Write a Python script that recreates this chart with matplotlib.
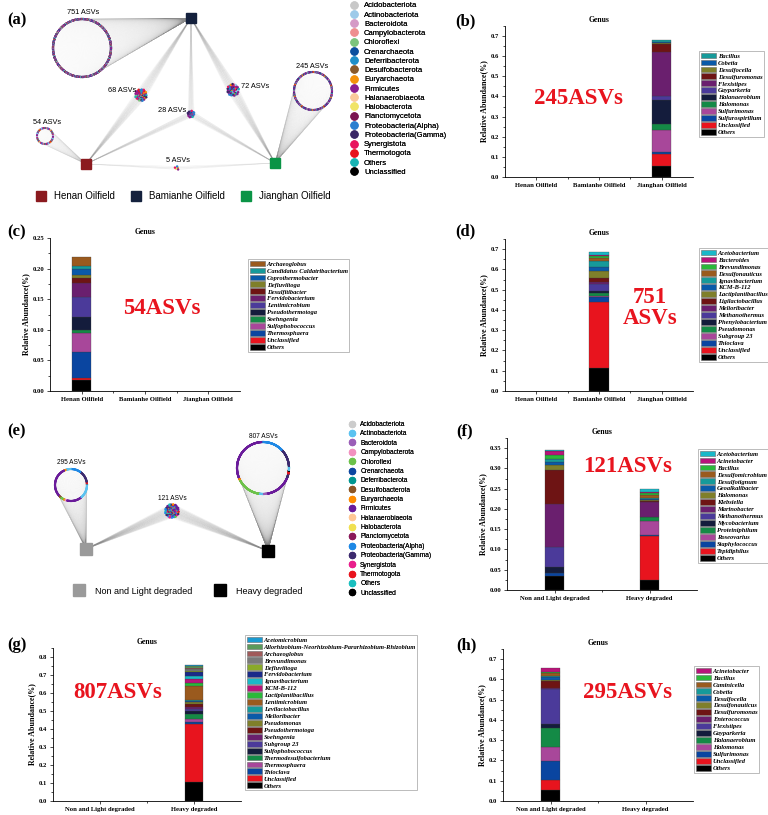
import numpy as np
import matplotlib.pyplot as plt
from matplotlib.collections import LineCollection
from matplotlib.lines import Line2D
from matplotlib.patches import Patch
from matplotlib.ticker import AutoMinorLocator, FormatStrFormatter

plt.rcParams['font.family'] = 'Liberation Serif'
plt.rcParams['font.weight'] = 'bold'
plt.rcParams['axes.labelweight'] = 'bold'
plt.rcParams['axes.titleweight'] = 'bold'

W, H = 768, 815

# ---------------- phyla (network legends) ----------------
phyla = ['Acidobacteriota', 'Actinobacteriota', 'Bacteroidota', 'Campylobacterota',
         'Chloroflexi', 'Crenarchaeota', 'Deferribacterota', 'Desulfobacterota',
         'Euryarchaeota', 'Firmicutes', 'Halanaerobiaeota', 'Halobacterota',
         'Planctomycetota', 'Proteobacteria(Alpha)', 'Proteobacteria(Gamma)',
         'Synergistota', 'Thermotogota', 'Others', 'Unclassified']
phyla_col_a = ['#c8c8c8', '#9ecae9', '#d59ac6', '#ef8f8f', '#7cc47c', '#0b4f9e',
               '#1f8fc8', '#8a5a2a', '#f5920a', '#8b1f8f', '#f9c99b', '#f0e466',
               '#7b1650', '#2a7fd0', '#3a2766', '#e8145e', '#e8141e', '#18b4b4', '#000000']
phyla_col_e = ['#cccccc', '#5bc2f0', '#9b5fb8', '#f291bf', '#6cc24a', '#0d47a1',
               '#009690', '#8d5524', '#ff8c00', '#6a1b9a', '#ffc896', '#f0e050',
               '#8b1a5a', '#1e88e5', '#3c2a6e', '#e91e8c', '#e8141e', '#1abfbf', '#000000']

# (a) oilfields
oilfields = ['Henan Oilfield', 'Bamianhe Oilfield', 'Jianghan Oilfield']
oil_colors = ['#8b1a1f', '#14213d', '#0a9446']

# ASV groups in (a): phylum composition
g751_phyla = ['Firmicutes', 'Proteobacteria(Gamma)', 'Proteobacteria(Alpha)', 'Synergistota',
              'Others', 'Bacteroidota', 'Chloroflexi', 'Euryarchaeota', 'Actinobacteriota',
              'Desulfobacterota', 'Thermotogota', 'Unclassified', 'Campylobacterota']
g751_counts = [220, 120, 90, 60, 70, 50, 30, 25, 30, 20, 15, 10, 11]
g54_phyla = ['Actinobacteriota', 'Synergistota', 'Firmicutes', 'Proteobacteria(Alpha)',
             'Thermotogota', 'Others', 'Euryarchaeota']
g54_counts = [10, 8, 12, 8, 6, 6, 4]
g245_phyla = ['Firmicutes', 'Proteobacteria(Gamma)', 'Proteobacteria(Alpha)', 'Synergistota',
              'Others', 'Bacteroidota', 'Chloroflexi', 'Euryarchaeota', 'Thermotogota']
g245_counts = [70, 45, 35, 25, 25, 15, 10, 10, 10]
g68_phyla = ['Firmicutes', 'Proteobacteria(Alpha)', 'Others', 'Synergistota', 'Euryarchaeota',
             'Chloroflexi', 'Thermotogota', 'Proteobacteria(Gamma)']
g68_counts = [18, 10, 8, 8, 6, 6, 6, 6]
g72_phyla = ['Firmicutes', 'Proteobacteria(Gamma)', 'Proteobacteria(Alpha)', 'Synergistota',
             'Others', 'Actinobacteriota', 'Euryarchaeota']
g72_counts = [22, 14, 10, 8, 8, 6, 4]
g28_phyla = ['Proteobacteria(Alpha)', 'Firmicutes', 'Proteobacteria(Gamma)', 'Synergistota', 'Others']
g28_counts = [8, 8, 6, 3, 3]
g5_phyla = ['Euryarchaeota', 'Halobacterota', 'Proteobacteria(Alpha)', 'Firmicutes', 'Synergistota']
g5_counts = [1, 1, 1, 1, 1]

# (e) degradation groups
degr = ['Non and Light degraded', 'Heavy degraded']
degr_colors = ['#9a9a9a', '#000000']
g807_phyla = ['Others', 'Proteobacteria(Gamma)', 'Proteobacteria(Alpha)', 'Firmicutes',
              'Euryarchaeota', 'Chloroflexi', 'Actinobacteriota', 'Bacteroidota', 'Firmicutes',
              'Proteobacteria(Gamma)', 'Thermotogota', 'Unclassified', 'Actinobacteriota']
g807_counts = [10, 90, 110, 250, 10, 120, 20, 20, 130, 20, 12, 5, 10]
g295_phyla = ['Unclassified', 'Thermotogota', 'Proteobacteria(Gamma)', 'Proteobacteria(Alpha)',
              'Actinobacteriota', 'Euryarchaeota', 'Firmicutes', 'Desulfobacterota', 'Chloroflexi',
              'Euryarchaeota', 'Campylobacterota', 'Firmicutes', 'Actinobacteriota']
g295_counts = [5, 5, 35, 30, 15, 5, 90, 6, 10, 4, 5, 45, 40]
g121_phyla = ['Firmicutes', 'Proteobacteria(Alpha)', 'Proteobacteria(Gamma)', 'Synergistota',
              'Others', 'Euryarchaeota', 'Chloroflexi', 'Thermotogota']
g121_counts = [30, 25, 20, 12, 12, 8, 8, 6]

# ---------------- genus bar charts ----------------
bar_pal = ['#000000', '#e8141e', '#0a45a0', '#a8479a', '#148a46', '#141c3c', '#4b3a9a',
           '#6a1f6e', '#6e1414', '#7f7f2a', '#0a5aa8', '#169a9a', '#9a5a1e', '#2ab83a',
           '#b8147a', '#1ab8c8', '#1a2a8a', '#8aaa2a', '#7a7a7a', '#a05a5a', '#5a9a5a', '#1a9ad0']

b_genus = ['Others', 'Unclassified', 'Sulfurospirillum', 'Sulfurimonas', 'Halomonas',
           'Halanaerobium', 'Gayparkeria', 'Flexistipes', 'Desulfuromonas', 'Desulfocella',
           'Cobetia', 'Bacillus']
b_jianghan = [0.053, 0.061, 0.008, 0.109, 0.032, 0.120, 0.021, 0.215, 0.040, 0.006, 0.004, 0.011]

c_genus = ['Others', 'Unclassified', 'Thermosphaera', 'Sulfophobococcus', 'Soehngenia',
           'Pseudothermotoga', 'Lentimicrobium', 'Fervidobacterium', 'Desulfitibacter',
           'Defluviitoga', 'Coprothermobacter', 'Candidatus Caldatribacterium', 'Archaeoglobus']
c_henan = [0.0175, 0.0035, 0.042, 0.032, 0.005, 0.021, 0.032, 0.024, 0.008, 0.005, 0.010,
           0.004, 0.0155]

d_genus = ['Others', 'Unclassified', 'Thioclava', 'Subgroup 23', 'Pseudomonas',
           'Phenylobacterium', 'Methanothermus', 'Melioribacter', 'Ligilactobacillus',
           'Lactiplantibacillus', 'KCM-B-112', 'Ignavibacterium', 'Desulfonauticus',
           'Brevundimonas', 'Bacteroides', 'Acetobacterium']
d_bamianhe = [0.115, 0.325, 0.025, 0.006, 0.013, 0.007, 0.039, 0.009, 0.019, 0.033, 0.023,
              0.025, 0.015, 0.010, 0.005, 0.016]

f_genus = ['Others', 'Tepidiphilus', 'Staphylococcus', 'Roseovarius', 'Proteiniphilum',
           'Mycobacterium', 'Methanothermus', 'Marinobacter', 'Klebsiella', 'Halomonas',
           'Geoalkalibacter', 'Desulfotignum', 'Desulfomicrobium', 'Bacillus', 'Acinetobacter',
           'Acetobacterium']
f_non = [0.035, 0.0, 0.0075, 0.0, 0.0, 0.0135, 0.051, 0.104, 0.086, 0.012, 0.006, 0.007,
         0.001, 0.010, 0.010, 0.003]
f_heavy = [0.025, 0.107, 0.003, 0.034, 0.010, 0.002, 0.0, 0.035, 0.004, 0.002, 0.002, 0.002,
           0.008, 0.005, 0.002, 0.007]

g_genus = ['Others', 'Unclassified', 'Thioclava', 'Thermosphaera', 'Thermodesulfobacterium',
           'Sulfophobococcus', 'Subgroup 23', 'Soehngenia', 'Pseudothermotoga', 'Pseudomonas',
           'Melioribacter', 'Levilactobacillus', 'Lentimicrobium', 'Lactiplantibacillus',
           'KCM-B-112', 'Ignavibacterium', 'Fervidobacterium', 'Defluviitoga', 'Brevundimonas',
           'Archaeoglobus', 'Allorhizobium-Neorhizobium-Pararhizobium-Rhizobium', 'Acetomicrobium']
g_heavy = [0.106, 0.322, 0.013, 0.017, 0.026, 0.016, 0.010, 0.014, 0.017, 0.007, 0.008, 0.007,
           0.075, 0.020, 0.019, 0.015, 0.024, 0.006, 0.011, 0.007, 0.008, 0.007]

h_genus = ['Others', 'Unclassified', 'Sulfurimonas', 'Halomonas', 'Halanaerobium',
           'Gayparkeria', 'Flexistipes', 'Enterococcus', 'Desulfuromonas', 'Desulfonauticus',
           'Desulfocella', 'Cobetia', 'Caminicella', 'Bacillus', 'Acinetobacter']
h_non = [0.053, 0.052, 0.090, 0.071, 0.092, 0.024, 0.169, 0.005, 0.034, 0.007, 0.016, 0.005,
         0.012, 0.008, 0.018]


def px_rect(x0, y0, x1, y1):
    return [x0 / W, 1 - y1 / H, (x1 - x0) / W, (y1 - y0) / H]


def fpt(x, y):
    return (x / W, 1 - y / H)


fig = plt.figure(figsize=(W / 100, H / 100), dpi=100)


# ---------------- network helpers ----------------
def ring_xy(cx, cy, r, n):
    t = np.linspace(0, 2 * np.pi, n, endpoint=False)
    return cx + r * np.cos(t), cy - r * np.sin(t)


def blob_xy(cx, cy, r, n):
    k = np.arange(n)
    rad = r * np.sqrt((k + 0.5) / n)
    t = k * 2.39996
    return cx + rad * np.cos(t), cy + rad * np.sin(t)


def mixed(names, counts):
    keys = []
    for j, (nm, c) in enumerate(zip(names, counts)):
        for k in range(c):
            keys.append(((k + 0.5) / c, j, nm))
    keys.sort()
    return [k[2] for k in keys]


def in_order(names, counts):
    out = []
    for nm, c in zip(names, counts):
        out += [nm] * c
    return out


def draw_group(ax, xy, members, hubs, cols, alpha, size):
    xs, ys = xy
    segs = [[(x, y), h] for x, y in zip(xs, ys) for h in hubs]
    ax.add_collection(LineCollection(segs, colors='#8a8a8a', linewidths=0.3,
                                     alpha=alpha, zorder=1))
    ax.scatter(xs, ys, s=size, c=[cols[phyla.index(m)] for m in members],
               linewidths=0, zorder=3)


def phyla_legend(ax, cols, xy, fs, ms, spacing, pad):
    hd = [Line2D([], [], ls='none', marker='o', ms=ms, color=c, label=p)
          for p, c in zip(phyla, cols)]
    leg = ax.legend(handles=hd, loc='upper left', bbox_to_anchor=xy,
                    bbox_transform=fig.transFigure, frameon=False, borderpad=0,
                    borderaxespad=0, handlelength=1.0, handletextpad=pad,
                    labelspacing=spacing,
                    prop={'family': 'Liberation Sans', 'weight': 'normal', 'size': fs})
    ax.add_artist(leg)


def square_legend(ax, names, cols, xy, fs, ms, hl, pad, colsp):
    hd = [Line2D([], [], ls='none', marker='s', ms=ms, color=c, label=n)
          for n, c in zip(names, cols)]
    leg = ax.legend(handles=hd, loc='center left', bbox_to_anchor=xy,
                    bbox_transform=fig.transFigure, frameon=False, borderpad=0,
                    borderaxespad=0, ncol=len(names), handlelength=hl,
                    handletextpad=pad, columnspacing=colsp,
                    prop={'family': 'Liberation Sans', 'weight': 'normal', 'size': fs})
    ax.add_artist(leg)


sans = dict(family='Liberation Sans', weight='normal')

# ---------------- (a) network ----------------
ax_a = fig.add_axes(px_rect(0, 0, 345, 210))
ax_a.set_xlim(0, 345)
ax_a.set_ylim(210, 0)
ax_a.axis('off')
hub_a = {'Henan Oilfield': (86, 164), 'Bamianhe Oilfield': (191, 18),
         'Jianghan Oilfield': (275, 163)}
HN, BM, JH = hub_a['Henan Oilfield'], hub_a['Bamianhe Oilfield'], hub_a['Jianghan Oilfield']

draw_group(ax_a, ring_xy(82, 48, 29, sum(g751_counts)), mixed(g751_phyla, g751_counts),
           [BM], phyla_col_a, 0.012, 2.6)
draw_group(ax_a, ring_xy(45, 136, 8, sum(g54_counts)), mixed(g54_phyla, g54_counts),
           [HN], phyla_col_a, 0.07, 2.4)
draw_group(ax_a, ring_xy(313, 91, 19, sum(g245_counts)), mixed(g245_phyla, g245_counts),
           [JH], phyla_col_a, 0.035, 2.4)
draw_group(ax_a, blob_xy(141, 95, 6, sum(g68_counts)), mixed(g68_phyla, g68_counts),
           [HN, BM], phyla_col_a, 0.05, 3)
draw_group(ax_a, blob_xy(233, 90, 6, sum(g72_counts)), mixed(g72_phyla, g72_counts),
           [BM, JH], phyla_col_a, 0.05, 3)
draw_group(ax_a, blob_xy(191, 114, 3.5, sum(g28_counts)), mixed(g28_phyla, g28_counts),
           [HN, BM, JH], phyla_col_a, 0.08, 3)
draw_group(ax_a, blob_xy(177, 168, 2.2, sum(g5_counts)), mixed(g5_phyla, g5_counts),
           [HN, JH], phyla_col_a, 0.15, 3)

for name, col in zip(oilfields, oil_colors):
    x, y = hub_a[name]
    ax_a.plot(x, y, 's', ms=7.4, color=col, zorder=5)

for txt, x, y in [('751 ASVs', 83, 13), ('54 ASVs', 47, 122), ('245 ASVs', 312, 66),
                  ('68 ASVs', 122, 90), ('72 ASVs', 255, 87), ('28 ASVs', 172, 110),
                  ('5 ASVs', 178, 161)]:
    ax_a.text(x, y, txt, ha='center', va='center', fontsize=5.3, zorder=6, **sans)

square_legend(ax_a, oilfields, oil_colors, fpt(36, 196), 7, 7.4, 1.0, 0.9, 1.6)
phyla_legend(ax_a, phyla_col_a, fpt(350, 2), 5.5, 5, 0.25, 0.84)

# ---------------- (e) network ----------------
ax_e = fig.add_axes(px_rect(0, 410, 330, 610))
ax_e.set_xlim(0, 330)
ax_e.set_ylim(610, 410)
ax_e.axis('off')
hub_e = {'Non and Light degraded': (86, 549), 'Heavy degraded': (268, 551)}
NL, HV = hub_e['Non and Light degraded'], hub_e['Heavy degraded']

draw_group(ax_e, ring_xy(263, 468, 26, sum(g807_counts)), in_order(g807_phyla, g807_counts),
           [HV], phyla_col_e, 0.012, 2.4)
draw_group(ax_e, ring_xy(71, 485, 16, sum(g295_counts)), in_order(g295_phyla, g295_counts),
           [NL], phyla_col_e, 0.03, 2.4)
draw_group(ax_e, blob_xy(172, 511, 7, sum(g121_counts)), mixed(g121_phyla, g121_counts),
           [NL, HV], phyla_col_e, 0.05, 3)

for name, col in zip(degr, degr_colors):
    x, y = hub_e[name]
    ax_e.plot(x, y, 's', ms=8.6, color=col, zorder=5)

for txt, x, y in [('807 ASVs', 263, 436), ('295 ASVs', 71, 463), ('121 ASVs', 172, 498)]:
    ax_e.text(x, y, txt, ha='center', va='center', fontsize=4.7, zorder=6, **sans)

square_legend(ax_e, degr, degr_colors, fpt(73, 591), 6.5, 8.6, 1.33, 1.1, 2.4)
phyla_legend(ax_e, phyla_col_e, fpt(349, 421), 4.75, 4.3, 0.36, 0.7)


# ---------------- bar panels ----------------
def bar_panel(rect, cats, genera, columns, width, ytop, ystep, yfmt, leg_xy):
    ax = fig.add_axes(px_rect(*rect))
    x = np.arange(1, len(cats) + 1)
    vals = np.array(columns, dtype=float).T
    bottom = np.zeros(len(cats))
    handles = []
    for i, g in enumerate(genera):
        v = vals[i]
        m = v > 0
        if m.any():
            ax.bar(x[m], v[m], width, bottom=bottom[m], color=bar_pal[i],
                   edgecolor='#3a3a3a', linewidth=0.2)
        bottom += v
        handles.append(Patch(facecolor=bar_pal[i], edgecolor='#6a6a6a', linewidth=0.4, label=g))
    ax.set_xlim(0.5, len(cats) + 0.5)
    ax.set_ylim(0, ytop)
    ax.set_xticks(x)
    ax.set_xticklabels(cats)
    ax.set_xticks(np.arange(1.5, len(cats), 1), minor=True)
    ax.set_yticks(np.arange(0, ytop + 1e-9, ystep))
    ax.yaxis.set_minor_locator(AutoMinorLocator(2))
    ax.yaxis.set_major_formatter(FormatStrFormatter(yfmt))
    for s in ['top', 'right']:
        ax.spines[s].set_visible(False)
    for s in ['left', 'bottom']:
        ax.spines[s].set_linewidth(0.6)
    ax.tick_params(which='both', direction='out', width=0.5, labelsize=4.8, pad=1.5)
    ax.tick_params(which='major', length=2.5)
    ax.tick_params(which='minor', length=1.5)
    ax.set_ylabel('Relative Abundance(%)', fontsize=5.7, labelpad=2)
    ax.set_title('Genus', fontsize=5.5, pad=3)
    ax.legend(handles=handles[::-1], loc='upper left', bbox_to_anchor=fpt(*leg_xy),
              bbox_transform=fig.transFigure, frameon=True, fancybox=False,
              edgecolor='#8a8a8a', borderpad=0.25, borderaxespad=0,
              handlelength=2.3, handleheight=1.0, handletextpad=0.3, labelspacing=0.12,
              prop={'family': 'Liberation Serif', 'style': 'italic', 'weight': 'bold',
                    'size': 4.7}).get_frame().set_linewidth(0.5)
    return ax


zeros = lambda n: [0.0] * n

bar_panel((505, 26, 693, 177), oilfields, b_genus,
          [zeros(len(b_genus)), zeros(len(b_genus)), b_jianghan], 0.3, 0.75, 0.1, '%.1f',
          (699, 51))
bar_panel((50, 238, 240, 391), oilfields, c_genus,
          [c_henan, zeros(len(c_genus)), zeros(len(c_genus))], 0.3, 0.25, 0.05, '%.2f',
          (248, 259))
bar_panel((505, 239, 693, 391), oilfields, d_genus,
          [zeros(len(d_genus)), d_bamianhe, zeros(len(d_genus))], 0.31, 0.75, 0.1, '%.1f',
          (699, 248))
bar_panel((507, 438, 697, 590), degr, f_genus, [f_non, f_heavy], 0.2, 0.375, 0.05, '%.2f',
          (698, 449))
bar_panel((53, 648, 241, 801), degr, g_genus, [zeros(len(g_genus)), g_heavy], 0.2, 0.85, 0.1,
          '%.1f', (245, 635))
bar_panel((503, 649, 693, 801), degr, h_genus, [h_non, zeros(len(h_genus))], 0.2, 0.75, 0.1,
          '%.1f', (694, 666))

# big red annotations
for txt, x, y in [('245ASVs', 578, 98), ('54ASVs', 162, 308), ('751\nASVs', 650, 308),
                  ('121ASVs', 628, 467), ('807ASVs', 118, 693), ('295ASVs', 628, 693)]:
    fig.text(*fpt(x, y), txt, ha='center', va='center', color='#e8141e', fontsize=16.5,
             fontweight='bold', linespacing=0.95)

# panel tags
for tag, x, y in [('(a)', 17, 20), ('(b)', 465, 21), ('(c)', 17, 232), ('(d)', 465, 231),
                  ('(e)', 16, 431), ('(f)', 465, 431), ('(g)', 17, 645), ('(h)', 466, 645)]:
    fig.text(*fpt(x, y), tag, ha='center', va='center', fontsize=12, fontweight='bold')

fig.savefig('out.png', dpi=100)
